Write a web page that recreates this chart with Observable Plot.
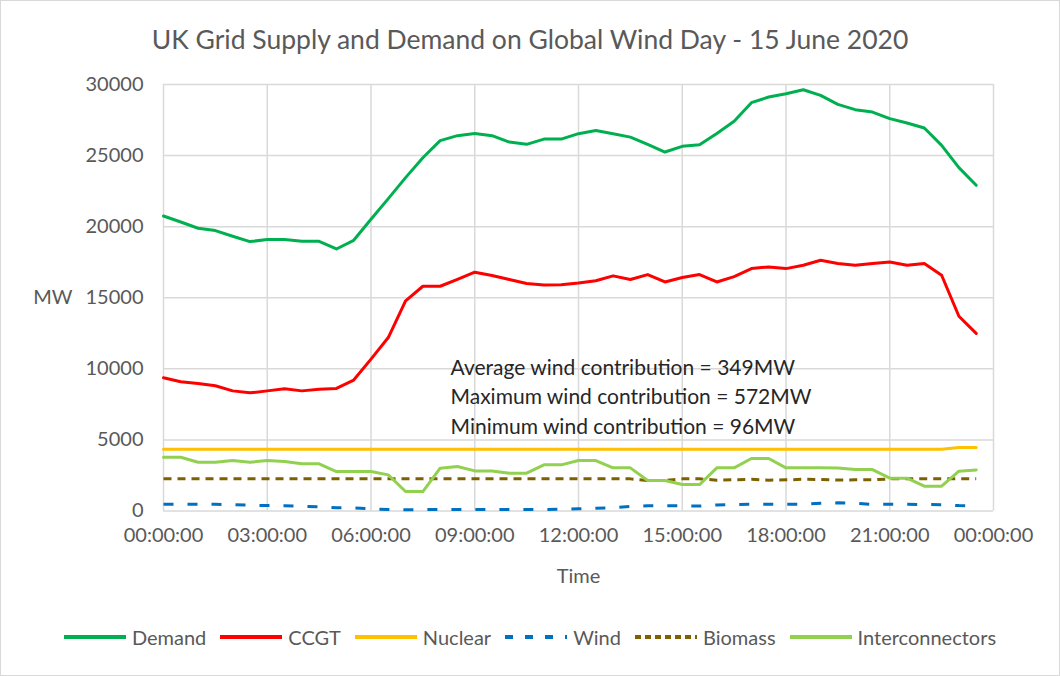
<!DOCTYPE html>
<html>
<head>
<meta charset="utf-8">
<script src="https://cdn.jsdelivr.net/npm/d3@7"></script>
<script src="https://cdn.jsdelivr.net/npm/@observablehq/plot@0.6"></script>
<style>
  body { margin: 0; background: #fff; }
  #chart { position: relative; width: 1060px; height: 676px; overflow: hidden; font-family: Lato, "Open Sans", sans-serif; background: #fff; }
  #frame { position: absolute; left: 0; top: 0; width: 1060px; height: 676px; box-sizing: border-box; border: 1px solid #d9d9d9; pointer-events: none; }
  #title { position: absolute; left: 0; top: 21px; width: 1060px; line-height: 36px; text-align: center; font-size: 26.5px; color: #595959; }
  #plot { position: absolute; left: 0; top: 60px; }
  #legend { position: absolute; left: 0; top: 599px; width: 1060px; height: 76px; display: flex; justify-content: center; align-items: center; color: #595959; font-size: 20px; }
  .item { display: flex; align-items: center; margin: 0 7px; }
  .item svg { margin-right: 6px; }
</style>
</head>
<body>
<div id="chart">
  <div id="title"></div>
  <div id="plot"></div>
  <div id="legend"></div>
  <div id="frame"></div>
</div>
<script>
const titleText = "UK Grid Supply and Demand on Global Wind Day - 15 June 2020";
const hours = [0,0.5,1,1.5,2,2.5,3,3.5,4,4.5,5,5.5,6,6.5,7,7.5,8,8.5,9,9.5,10,10.5,11,11.5,12,12.5,13,13.5,14,14.5,15,15.5,16,16.5,17,17.5,18,18.5,19,19.5,20,20.5,21,21.5,22,22.5,23,23.5];
const demand = [20750,20330,19890,19725,19325,18950,19090,19090,18970,18970,18430,19040,20520,21970,23450,24850,26050,26400,26560,26400,25950,25790,26160,26160,26540,26770,26540,26300,25790,25250,25650,25770,26560,27410,28720,29120,29350,29630,29230,28600,28230,28060,27600,27290,26940,25720,24150,22910];
const ccgt = [9370,9090,8970,8810,8450,8310,8450,8600,8450,8570,8620,9210,10680,12200,14780,15810,15810,16300,16800,16560,16280,16000,15900,15920,16040,16200,16540,16280,16630,16110,16420,16630,16110,16490,17050,17170,17050,17290,17640,17410,17290,17410,17520,17290,17410,16580,13700,12490];
const nuclear = [4340,4340,4340,4340,4340,4340,4340,4340,4340,4340,4340,4340,4340,4340,4340,4340,4340,4340,4340,4340,4340,4340,4340,4340,4340,4340,4340,4340,4340,4340,4340,4340,4340,4340,4340,4340,4340,4340,4340,4340,4340,4340,4340,4340,4340,4340,4470,4470];
const wind = [470,470,470,470,450,410,380,370,340,290,220,220,150,100,96,96,100,100,100,100,100,100,110,130,160,200,230,330,370,370,360,350,420,460,470,470,470,480,540,572,540,470,470,470,460,440,380,350];
const biomass = [2260,2260,2260,2260,2260,2260,2260,2260,2260,2260,2260,2260,2260,2260,2260,2260,2260,2260,2260,2260,2260,2260,2260,2260,2260,2260,2260,2260,2150,2150,2260,2260,2170,2200,2230,2170,2190,2230,2220,2180,2190,2190,2260,2260,2260,2260,2260,2260];
const interconnectors = [3780,3780,3430,3430,3550,3430,3550,3480,3320,3320,2775,2775,2775,2540,1370,1370,3010,3130,2820,2820,2660,2660,3245,3245,3550,3550,3035,3035,2140,2140,1860,1860,3035,3035,3690,3690,3035,3035,3035,3020,2915,2915,2310,2310,1745,1745,2800,2890];
const xTicks = [0,3,6,9,12,15,18,21,24];
const xTickLabels = ["00:00:00","03:00:00","06:00:00","09:00:00","12:00:00","15:00:00","18:00:00","21:00:00","00:00:00"];
const yTicks = [0,5000,10000,15000,20000,25000,30000];
const yLabel = "MW";
const xLabel = "Time";
const annotation = ["Average wind contribution = 349MW","Maximum wind contribution = 572MW","Minimum wind contribution = 96MW"];

const seriesNames = ["Demand","CCGT","Nuclear","Wind","Biomass","Interconnectors"];
const seriesValues = [demand, ccgt, nuclear, wind, biomass, interconnectors];
const seriesColors = ["#00B050","#FF0000","#FFC000","#0070C0","#7F6000","#92D050"];
const seriesDash = [null,null,null,"10,14","8,6",null];

document.getElementById("title").textContent = titleText;

const lineMarks = seriesValues.map((vals, k) =>
  Plot.line(vals, {
    x: (d, i) => hours[i], y: d => d,
    stroke: seriesColors[k], strokeWidth: 3,
    strokeDasharray: seriesDash[k] || undefined,
    strokeLinejoin: "round", strokeLinecap: seriesDash[k] ? "butt" : "round"
  })
);
const order = [0,1,2,3,4,5];

const plot = Plot.plot({
  width: 1060, height: 540,
  marginTop: 24, marginLeft: 163, marginRight: 67, marginBottom: 89.5,
  style: { fontFamily: "Lato, 'Open Sans', sans-serif", fontSize: "20px", color: "#595959", background: "transparent", overflow: "visible" },
  x: { domain: [0, 24] },
  y: { domain: [0, 30000] },
  marks: [
    Plot.gridX(xTicks, { stroke: "#d9d9d9", strokeOpacity: 1, strokeWidth: 1.5 }),
    Plot.gridY(yTicks, { stroke: "#d9d9d9", strokeOpacity: 1, strokeWidth: 1.5 }),
    Plot.axisX(xTicks, { tickSize: 0, tickPadding: 17, tickFormat: d => xTickLabels[xTicks.indexOf(d)], label: null, fill: "#595959" }),
    Plot.axisY(yTicks, { tickSize: 0, tickPadding: 20, tickFormat: d => String(d), label: null, fill: "#595959" }),
    Plot.text([yLabel], { text: d => d, y: 15000, frameAnchor: "left", dx: -91, textAnchor: "end", fill: "#595959", fontSize: 20 }),
    Plot.text([xLabel], { text: d => d, frameAnchor: "bottom", dy: 66, lineAnchor: "middle", fill: "#595959", fontSize: 20 }),
    ...order.map(k => lineMarks[k]),
    Plot.text([annotation.join("\n")], { text: d => d, x: 8.3, y: 8170, textAnchor: "start", lineAnchor: "middle", lineHeight: 1.4, fill: "#262626", fontSize: 21 })
  ]
});
document.getElementById("plot").appendChild(plot);

const legend = document.getElementById("legend");
seriesNames.forEach((name, k) => {
  const item = document.createElement("div");
  item.className = "item";
  const dash = seriesDash[k] ? (k === 3 ? "8,12" : "6,4") : "";
  item.innerHTML = `<svg width="62" height="10"><line x1="0" y1="5" x2="62" y2="5" stroke="${seriesColors[k]}" stroke-width="4" ${dash ? `stroke-dasharray="${dash}"` : ""}/></svg><span>${name}</span>`;
  legend.appendChild(item);
});
</script>
</body>
</html>
